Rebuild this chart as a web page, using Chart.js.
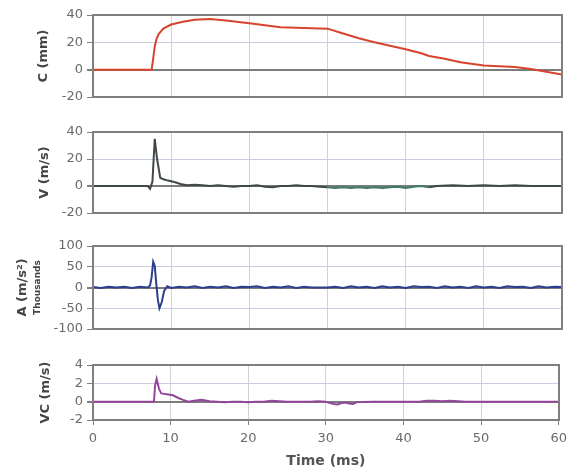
<!DOCTYPE html>
<html lang="en">
<head>
<meta charset="UTF-8">
<title>Crash pulse traces</title>
<script src="https://cdn.jsdelivr.net/npm/chart.js"></script>
<style>
  body { margin: 0; background: #fff; }
  .wrap { position: relative; width: 573px; height: 474px; }
  .wrap canvas { position: absolute; left: 0; }
  .box { position: absolute; box-sizing: border-box; border: 2px solid #7f7f7f; pointer-events: none; z-index: 5; }
</style>
</head>
<body>
<div class="wrap" id="wrap">
  <canvas id="cChart" style="top:0px" width="573" height="110"></canvas>
  <canvas id="vChart" style="top:118px" width="573" height="110"></canvas>
  <canvas id="aChart" style="top:232px" width="573" height="110"></canvas>
  <canvas id="vcChart" style="top:350px" width="573" height="124"></canvas>
</div>

<script>
// time axis ticks (ms)
const timeTicks = [0, 10, 20, 30, 40, 50, 60];

// C (mm) - chest compression
const cTime = [0, 7.5, 7.7, 7.9, 8.1, 8.4, 9, 10, 11.5, 13, 15, 17, 20, 22, 24, 27, 30, 32, 34, 36, 38, 40, 42, 43, 45, 47, 50, 52, 54, 56, 58, 60];
const cVal  = [0, 0, 8, 17, 22, 26, 30, 33, 35, 36.5, 37, 36, 34, 32.5, 31, 30.5, 30, 26.5, 23, 20, 17.5, 15, 12, 10, 8, 5.5, 3, 2.5, 2, 0.5, -1.5, -3.5];
const cTicks = [-20, 0, 20, 40];

// V (m/s)
const vTime = [0, 7.0, 7.3, 7.6, 7.9, 8.2, 8.6, 9.0, 9.6, 10.4, 11.2,
  12, 13, 14, 15, 16, 17, 18, 19, 20, 21,
  22, 23, 24, 25, 26, 27, 28, 29, 30, 31,
  32, 33, 34, 35, 36, 37, 38, 39, 40, 41,
  42, 43, 44, 46, 48, 50, 52, 54, 56, 58, 60];
const vVal = [0, 0, -2, 3, 35, 20, 6, 5, 4, 3, 1.5,
  0.5, 1, 0.5, 0, 0.5, 0, -0.5, 0, 0, 0.5,
  -0.5, -1, 0, 0, 0.5, 0, 0, -0.5, -1, -1.5,
  -1, -1.5, -1, -1.5, -1, -1.5, -1, -0.5, -1.5, -0.5,
  0, -1, 0, 0.5, 0, 0.5, 0, 0.5, 0, 0, 0];
const vTicks = [-20, 0, 20, 40];

// A (m/s^2, thousands)
const aTime = [0, 1, 2, 3, 4, 5, 6, 7,
  7.3, 7.5, 7.7, 7.9, 8.1, 8.3, 8.5, 8.8, 9.1, 9.5,
  10, 11, 12, 13, 14, 15, 16, 17, 18, 19,
  20, 21, 22, 23, 24, 25, 26, 27, 28, 29,
  30, 31, 32, 33, 34, 35, 36, 37, 38, 39,
  40, 41, 42, 43, 44, 45, 46, 47, 48, 49,
  50, 51, 52, 53, 54, 55, 56, 57, 58, 59,
  60];
const aVal = [1, -1, 2, 0, 2, -1, 2, 0,
  5, 25, 62, 52, 8, -30, -50, -35, -8, 3,
  -1, 2, 0, 3, -1, 2, 0, 3, -1, 2,
  1, 3, -1, 2, 0, 3, -1, 2, 0, 0,
  0, 2, -1, 3, 0, 2, -1, 3, 0, 2,
  -1, 3, 1, 2, -1, 3, 0, 2, -1, 3,
  0, 2, -1, 3, 1, 2, -1, 3, 0, 2,
  1];
const aTicks = [-100, -50, 0, 50, 100];

// VC (m/s)
const vcTime = [0, 7.85, 8.0, 8.2, 8.5, 8.8, 9.5, 10.3, 11, 11.6, 12.3,
  13, 14, 15, 16, 17, 18, 19, 20, 21, 22, 23, 24, 25, 26, 27, 28, 29, 30, 31,
  31.5, 32, 32.5, 33, 33.5, 34,
  36, 38, 40, 42, 43, 44, 45, 46,
  48, 50, 52, 54, 56, 58, 60];
const vcVal = [0, 0, 1.8, 2.5, 1.4, 0.9, 0.8, 0.7, 0.4, 0.2, 0,
  0.1, 0.2, 0.05, 0, -0.05, 0, 0, -0.05, 0, 0, 0.1, 0.05, 0, 0, 0, 0, 0.05, 0, -0.25,
  -0.3, -0.15, -0.1, -0.2, -0.25, -0.05,
  0, 0, 0, 0, 0.1, 0.1, 0.05, 0.1,
  0, 0, 0, 0, 0, 0, 0];
const vcTicks = [-2, 0, 2, 4];

const FONT = "'DejaVu Sans', Verdana, sans-serif";
const BORDER = '#7f7f7f';

function toPoints(xs, ys) {
  return xs.map((x, i) => ({ x: x, y: ys[i] }));
}

// grey box over the plot area, sized from the chart's own layout
function addBox(chart) {
  const a = chart.chartArea;
  const box = document.createElement('div');
  box.className = 'box';
  box.style.left = (a.left - 1) + 'px';
  box.style.top = (chart.canvas.offsetTop + a.top - 1) + 'px';
  box.style.width = (a.right - a.left + 2) + 'px';
  box.style.height = (a.bottom - a.top + 2) + 'px';
  document.getElementById('wrap').appendChild(box);
}

function makePanel(id, cfg) {
  const yMin = cfg.ticks[0], yMax = cfg.ticks[cfg.ticks.length - 1];
  const last = cfg.last || false;
  const dataset = {
    data: toPoints(cfg.xs, cfg.ys),
    borderColor: cfg.color,
    borderWidth: 2,
    pointRadius: 0,
    tension: 0
  };
  if (cfg.segment) dataset.segment = cfg.segment;
  const chart = new Chart(document.getElementById(id), {
    type: 'line',
    data: { datasets: [dataset] },
    options: {
      responsive: false,
      animation: false,
      layout: { padding: cfg.padding },
      plugins: { legend: { display: false }, tooltip: { enabled: false } },
      scales: {
        x: {
          type: 'linear',
          min: 0, max: 60,
          afterBuildTicks: s => { s.ticks = timeTicks.map(v => ({ value: v })); },
          afterFit: s => { s.height = last ? 54 : 0; },
          border: { color: BORDER, width: 2 },
          grid: {
            color: '#d2d2d2',
            drawTicks: last,
            tickLength: 5,
            tickColor: BORDER
          },
          ticks: {
            display: last,
            autoSkip: false,
            maxRotation: 0,
            padding: 6,
            color: '#6a6a6a',
            font: { family: FONT, size: 13 }
          },
          title: {
            display: last,
            text: 'Time (ms)',
            color: '#555',
            font: { family: FONT, size: 14, weight: 'bold' },
            padding: { bottom: 4 }
          }
        },
        y: {
          min: yMin, max: yMax,
          afterBuildTicks: s => { s.ticks = cfg.ticks.map(v => ({ value: v })); },
          afterFit: s => { s.width = 93; },
          border: { color: BORDER, width: 2 },
          grid: {
            color: c => (c.tick.value === 0) ? '#7c7c7c' : '#c9cde0',
            lineWidth: c => (c.tick.value === 0) ? 2 : 1,
            tickLength: 6,
            tickColor: BORDER
          },
          ticks: {
            autoSkip: false,
            padding: 4,
            color: '#6a6a6a',
            font: { family: FONT, size: 13 }
          },
          title: {
            display: true,
            text: cfg.title,
            color: '#454545',
            font: { family: FONT, size: 13, weight: 'bold' },
            padding: { top: cfg.titleOffset, bottom: 0 }
          }
        }
      }
    },
    plugins: cfg.plugins || []
  });
  addBox(chart);
  return chart;
}

// small "Thousands" note beside the A axis title
const thousandsNote = {
  id: 'thousandsNote',
  afterDraw(chart) {
    const ctx = chart.ctx;
    const a = chart.chartArea;
    ctx.save();
    ctx.translate(38, (a.top + a.bottom) / 2);
    ctx.rotate(-Math.PI / 2);
    ctx.fillStyle = '#454545';
    ctx.font = "bold 9px " + FONT;
    ctx.textAlign = 'center';
    ctx.textBaseline = 'middle';
    ctx.fillText('Thousands', 0, 0);
    ctx.restore();
  }
};

makePanel('cChart', {
  xs: cTime, ys: cVal, ticks: cTicks, color: '#d8432f',
  title: 'C (mm)', titleOffset: 36,
  padding: { top: 15, bottom: 13, left: 0, right: 11 }
});

makePanel('vChart', {
  xs: vTime, ys: vVal, ticks: vTicks, color: '#414848',
  title: 'V (m/s)', titleOffset: 37,
  padding: { top: 14, bottom: 15, left: 0, right: 11 },
  segment: {
    borderColor: c => (c.p0.parsed.x >= 30 && c.p0.parsed.x < 43) ? '#3f7a6a' : undefined
  }
});

makePanel('aChart', {
  xs: aTime, ys: aVal, ticks: aTicks, color: '#2c3f8f',
  title: 'A (m/s²)', titleOffset: 15,
  padding: { top: 14, bottom: 13, left: 0, right: 11 },
  plugins: [thousandsNote]
});

makePanel('vcChart', {
  xs: vcTime, ys: vcVal, ticks: vcTicks, color: '#94479a',
  title: 'VC (m/s)', titleOffset: 38,
  padding: { top: 15, bottom: 0, left: 0, right: 11 },
  last: true
});
</script>
</body>
</html>
